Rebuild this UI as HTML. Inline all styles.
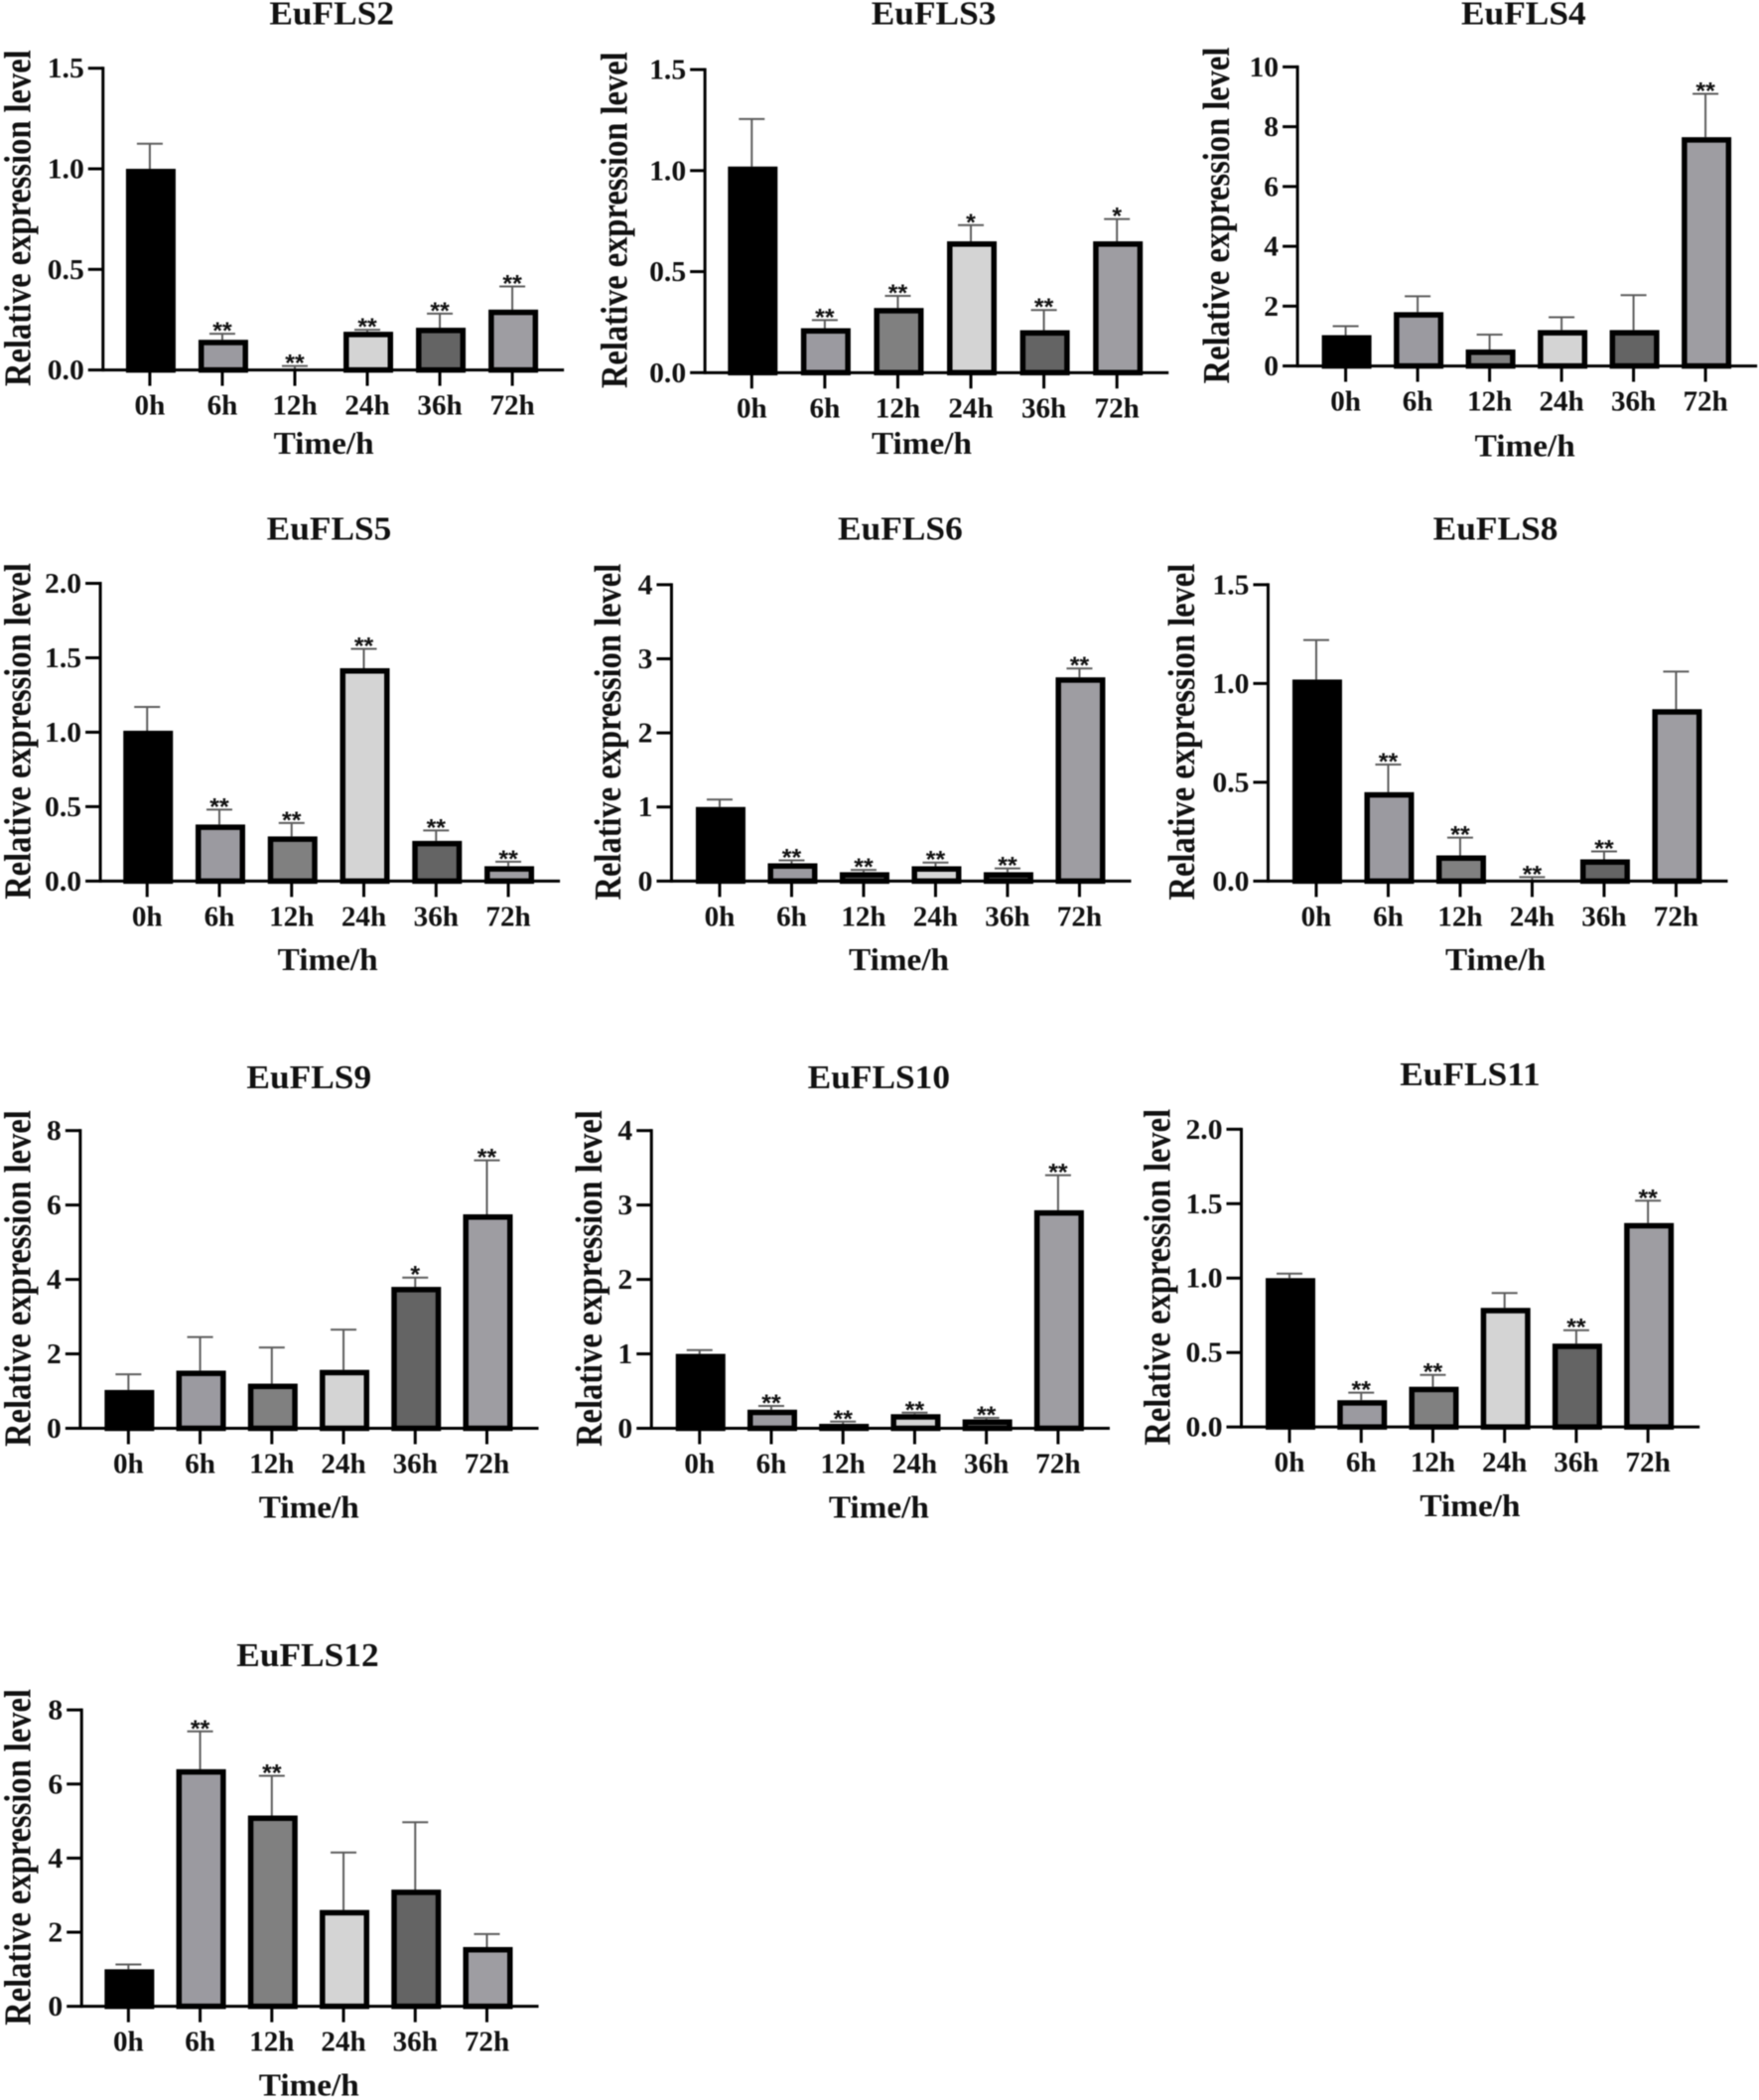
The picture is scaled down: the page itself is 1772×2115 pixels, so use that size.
<!DOCTYPE html>
<html lang="en">
<head>
<meta charset="utf-8">
<title>EuFLS relative expression</title>
<style>
html,body{margin:0;padding:0;background:#fff;}
#figure{display:block;width:1772px;height:2115px;filter:blur(0.65px);}
text{font-family:"Liberation Serif",serif;font-weight:bold;fill:#111;}
</style>
</head>
<body>
<svg id="figure" xmlns="http://www.w3.org/2000/svg" width="1772" height="2115" viewBox="0 0 1772 2115"></svg>
<script>
const categories = ['0h','6h','12h','24h','36h','72h'];
const barFills = ['#000000','#9b9aa0','#808080','#d4d4d4','#646464','#9e9da2'];

const fls2Ticks = ['0.0','0.5','1.0','1.5'];
const fls2Values = [1.00,0.15,0,0.19,0.21,0.30];
const fls2Tops = [1.125,0.18,0.02,0.20,0.28,0.415];
const fls2Stars = ['','**','**','**','**','**'];

const fls3Ticks = ['0.0','0.5','1.0','1.5'];
const fls3Values = [1.02,0.22,0.32,0.65,0.21,0.65];
const fls3Tops = [1.255,0.26,0.38,0.73,0.31,0.76];
const fls3Stars = ['','**','**','*','**','*'];

const fls4Ticks = ['0','2','4','6','8','10'];
const fls4Values = [1.03,1.80,0.55,1.20,1.20,7.65];
const fls4Tops = [1.33,2.33,1.05,1.63,2.37,9.10];
const fls4Stars = ['','','','','','**'];

const fls5Ticks = ['0.0','0.5','1.0','1.5','2.0'];
const fls5Values = [1.01,0.38,0.30,1.43,0.27,0.10];
const fls5Tops = [1.17,0.48,0.39,1.56,0.34,0.13];
const fls5Stars = ['','**','**','**','**','**'];

const fls6Ticks = ['0','1','2','3','4'];
const fls6Values = [1.00,0.24,0.12,0.20,0.12,2.75];
const fls6Tops = [1.10,0.28,0.15,0.25,0.17,2.87];
const fls6Stars = ['','**','**','**','**','**'];

const fls8Ticks = ['0.0','0.5','1.0','1.5'];
const fls8Values = [1.02,0.45,0.13,0,0.11,0.87];
const fls8Tops = [1.22,0.59,0.22,0.02,0.15,1.06];
const fls8Stars = ['','**','**','**','**',''];

const fls9Ticks = ['0','2','4','6','8'];
const fls9Values = [1.03,1.55,1.20,1.57,3.80,5.75];
const fls9Tops = [1.45,2.45,2.17,2.65,4.05,7.20];
const fls9Stars = ['','','','','*','**'];

const fls10Ticks = ['0','1','2','3','4'];
const fls10Values = [1.00,0.25,0.06,0.19,0.12,2.93];
const fls10Tops = [1.05,0.30,0.09,0.21,0.14,3.40];
const fls10Stars = ['','**','**','**','**','**'];

const fls11Ticks = ['0.0','0.5','1.0','1.5','2.0'];
const fls11Values = [1.00,0.18,0.27,0.80,0.56,1.37];
const fls11Tops = [1.03,0.23,0.35,0.90,0.65,1.52];
const fls11Stars = ['','**','**','','**','**'];

const fls12Ticks = ['0','2','4','6','8'];
const fls12Values = [1.00,6.40,5.15,2.60,3.15,1.60];
const fls12Tops = [1.13,7.42,6.22,4.15,4.97,1.95];
const fls12Stars = ['','**','**','','',''];

const svg = document.getElementById('figure');
const NS = 'http://www.w3.org/2000/svg';
const K = 1772 / 1315;
const STRETCH = 1.04;

function make(tag, parent, props) {
  const el = document.createElementNS(NS, tag);
  for (const key in props) el.setAttribute(key, props[key]);
  parent.appendChild(el);
  return el;
}

function hText(parent, str, x, y, size, anchor) {
  const el = make('text', parent, {
    transform: 'translate(' + x + ',' + y + ') scale(' + STRETCH + ',1)',
    'font-size': size,
    'text-anchor': anchor
  });
  el.textContent = str;
  return el;
}

function drawPanel(key, title, ticks, values, tops, stars, box) {
  const axisX = box.axis * K, topY = box.top * K, baseY = box.base * K + 0.7;
  const firstX = box.first * K, lastX = box.last * K;
  const yMax = parseFloat(ticks[ticks.length - 1]);
  const yScale = v => baseY - (v / yMax) * (baseY - topY);
  const xScale = i => firstX + (lastX - firstX) * i / (categories.length - 1);

  const g = make('g', svg, {});
  
  

  const titleEl = hText(g, title, box.titleX * K, box.titleY * K + 11, 34, 'middle');
  
  

  const yTitle = make('text', g, {
    transform: 'translate(' + (box.labelX * K + 1) + ',' + ((topY + baseY) / 2 - 1) + ') scale(1.16,1) rotate(-90)',
    'font-size': 32.5,
    'text-anchor': 'middle'
  });
  yTitle.textContent = 'Relative expression level';
  
  

  const xTitle = hText(g, 'Time/h', box.timeX * K, box.timeY * K + 11, 32, 'middle');
  
  

  categories.forEach((cat, i) => {
    const cx = xScale(i), v = values[i], t = tops[i];
    const outerW = 50, sw = 5.5;
    if (t > v) {
      const err = make('path', g, {
        d: 'M' + cx + ' ' + yScale(v) + 'V' + yScale(t) + 'M' + (cx - 13) + ' ' + yScale(t) + 'H' + (cx + 13),
        stroke: '#5c5c5c', 'stroke-width': 2, fill: 'none'
      });
      
      
    }
    const h = baseY - yScale(v);
    if (h > 0) {
      const bar = make('rect', g, {
        x: cx - 24 + sw / 2,
        y: yScale(v) + sw / 2,
        width: outerW - sw,
        height: Math.max(h - sw / 2, 0.5),
        fill: barFills[i], stroke: '#000', 'stroke-width': sw
      });
      
      
    }
    if (stars[i]) {
      const s = make('text', g, {
        transform: 'translate(' + cx + ',' + (yScale(t) + 5) + ') scale(' + STRETCH + ',1)',
        'font-size': 24,
        'text-anchor': 'middle',
        style: 'font-family:"Liberation Sans",sans-serif'
      });
      s.textContent = stars[i];
      
      
    }
    const tick = make('line', g, {
      x1: cx, x2: cx, y1: baseY, y2: baseY + 16, stroke: '#000', 'stroke-width': 3
    });
    
    
    const lab = hText(g, cat, cx, baseY + 45, 28, 'middle');
    
    
  });

  ticks.forEach(tv => {
    const y = yScale(parseFloat(tv));
    const tick = make('line', g, {
      x1: axisX - 15, x2: axisX, y1: y, y2: y, stroke: '#000', 'stroke-width': 3
    });
    
    
    const lab = hText(g, tv, axisX - 19, y + 9.5, 28.5, 'end');
    
    
  });

  const yAxis = make('line', g, {
    x1: axisX, x2: axisX, y1: topY - 1.5, y2: baseY + 1.5, stroke: '#000', 'stroke-width': 3
  });
  
  
  const xAxis = make('line', g, {
    x1: axisX, x2: lastX + 39 * K * 0.8 + 10, y1: baseY, y2: baseY, stroke: '#000', 'stroke-width': 3
  });
  
  
}

drawPanel('eufls2','EuFLS2',fls2Ticks,fls2Values,fls2Tops,fls2Stars,{axis:77,top:51,base:276,first:112,last:383,titleX:248,titleY:10,labelX:22,timeX:242,timeY:331});
drawPanel('eufls3','EuFLS3',fls3Ticks,fls3Values,fls3Tops,fls3Stars,{axis:527,top:52,base:278,first:562,last:835,titleX:698,titleY:10,labelX:468,timeX:689,timeY:331});
drawPanel('eufls4','EuFLS4',fls4Ticks,fls4Values,fls4Tops,fls4Stars,{axis:970,top:50,base:273,first:1006,last:1275,titleX:1139,titleY:10,labelX:918,timeX:1140,timeY:333});
drawPanel('eufls5','EuFLS5',fls5Ticks,fls5Values,fls5Tops,fls5Stars,{axis:75,top:436,base:658,first:110,last:380,titleX:246,titleY:395,labelX:22,timeX:245,timeY:717});
drawPanel('eufls6','EuFLS6',fls6Ticks,fls6Values,fls6Tops,fls6Stars,{axis:502,top:437,base:658,first:538,last:807,titleX:673,titleY:395,labelX:463,timeX:672,timeY:717});
drawPanel('eufls8','EuFLS8',fls8Ticks,fls8Values,fls8Tops,fls8Stars,{axis:948,top:437,base:658,first:984,last:1253,titleX:1118,titleY:395,labelX:892,timeX:1118,timeY:717});
drawPanel('eufls9','EuFLS9',fls9Ticks,fls9Values,fls9Tops,fls9Stars,{axis:60,top:845,base:1067,first:96,last:364,titleX:231,titleY:805,labelX:22,timeX:231,timeY:1126});
drawPanel('eufls10','EuFLS10',fls10Ticks,fls10Values,fls10Tops,fls10Stars,{axis:487,top:845,base:1067,first:523,last:791,titleX:657,titleY:805,labelX:449,timeX:657,timeY:1126});
drawPanel('eufls11','EuFLS11',fls11Ticks,fls11Values,fls11Tops,fls11Stars,{axis:928,top:844,base:1066,first:964,last:1232,titleX:1099,titleY:803,labelX:874,timeX:1099,timeY:1125});
drawPanel('eufls12','EuFLS12',fls12Ticks,fls12Values,fls12Tops,fls12Stars,{axis:61,top:1278,base:1499,first:96,last:364,titleX:230,titleY:1237,labelX:22,timeX:231,timeY:1558});
</script>
</body>
</html>
